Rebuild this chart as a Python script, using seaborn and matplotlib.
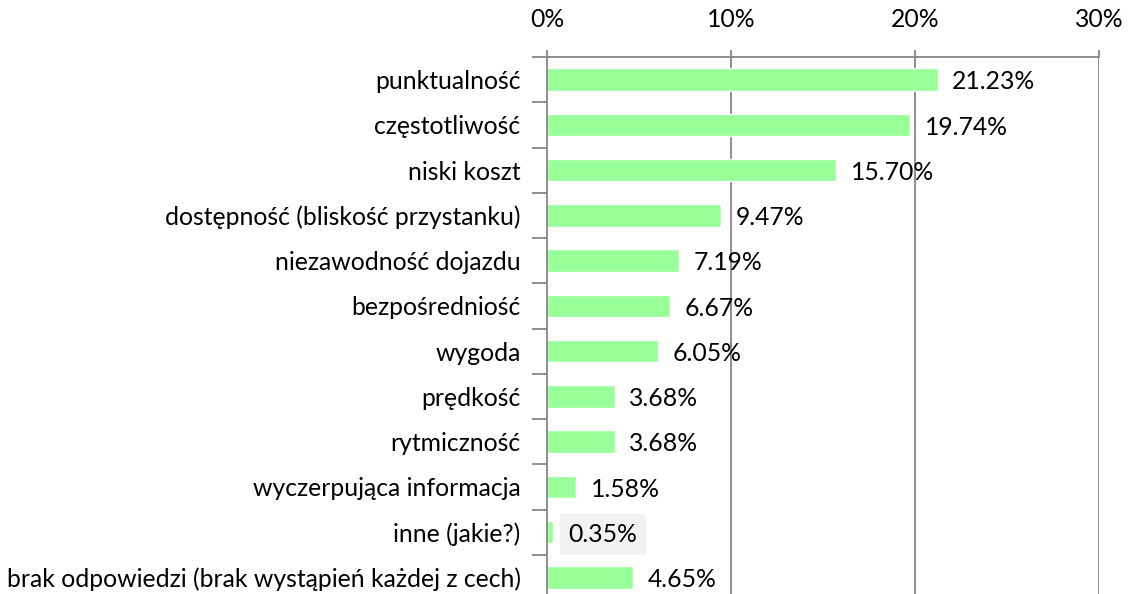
import matplotlib
matplotlib.use("Agg")
import matplotlib.pyplot as plt
import seaborn as sns
import pandas as pd
import numpy as np

categories = [
    "punktualność",
    "częstotliwość",
    "niski koszt",
    "dostępność (bliskość przystanku)",
    "niezawodność dojazdu",
    "bezpośredniość",
    "wygoda",
    "prędkość",
    "rytmiczność",
    "wyczerpująca informacja",
    "inne (jakie?)",
    "brak odpowiedzi (brak wystąpień każdej z cech)",
]
values = [21.23, 19.74, 15.70, 9.47, 7.19, 6.67, 6.05, 3.68, 3.68, 1.58, 0.35, 4.65]
x_ticks = [0, 10, 20, 30]

sns.set_theme(style="white")
plt.rcParams["font.family"] = ["Lato", "DejaVu Sans"]

df = pd.DataFrame({"cecha": categories, "udzial": values})

fig = plt.figure(figsize=(11.31, 5.94), dpi=100)
ax = fig.add_axes([547 / 1131, -6 / 594, (1099 - 547) / 1131, (600 - 57) / 594])

sns.barplot(data=df, x="udzial", y="cecha", color="#99ff99", saturation=1,
            width=0.5, ax=ax, order=categories)

grid_col = "#868686"
fs = 17.8
ax.set_xlim(0, 30)
ax.set_ylim(len(categories) - 0.5, -0.5)
ax.set_xticks(x_ticks)
ax.set_xticklabels([f"{t}%" for t in x_ticks])
ax.xaxis.tick_top()
ax.xaxis.set_label_position("top")
ax.set_xlabel("")
ax.set_ylabel("")
for t in x_ticks[1:]:
    ax.axvline(t, color=grid_col, lw=1.3, zorder=0)

for side in ["right", "bottom"]:
    ax.spines[side].set_visible(False)
for side in ["left", "top"]:
    ax.spines[side].set_color(grid_col)
    ax.spines[side].set_linewidth(1.3)

# category labels sit at band centres; ticks mark band boundaries
ax.set_yticks(range(len(categories)))
ax.set_yticklabels(categories)
ax.tick_params(axis="y", which="major", length=0, pad=19, labelsize=fs, colors="black")
ax.set_yticks(np.arange(-0.5, len(categories), 1), minor=True)
ax.tick_params(axis="y", which="minor", length=11, width=1.3, color=grid_col, left=True)
ax.tick_params(axis="x", which="major", length=5, width=1.3, color=grid_col,
               labelsize=fs, pad=14, top=True, labelcolor="black")

for i, v in enumerate(values):
    box = None
    if categories[i] == "inne (jakie?)":
        box = dict(boxstyle="square,pad=0.35", fc="#f2f2f2", ec="none")
    ax.text(v + 0.8, i + 0.05, f"{v:.2f}%", va="center", ha="left",
            fontsize=fs, color="black", bbox=box)

fig.savefig("out.png", dpi=100)
